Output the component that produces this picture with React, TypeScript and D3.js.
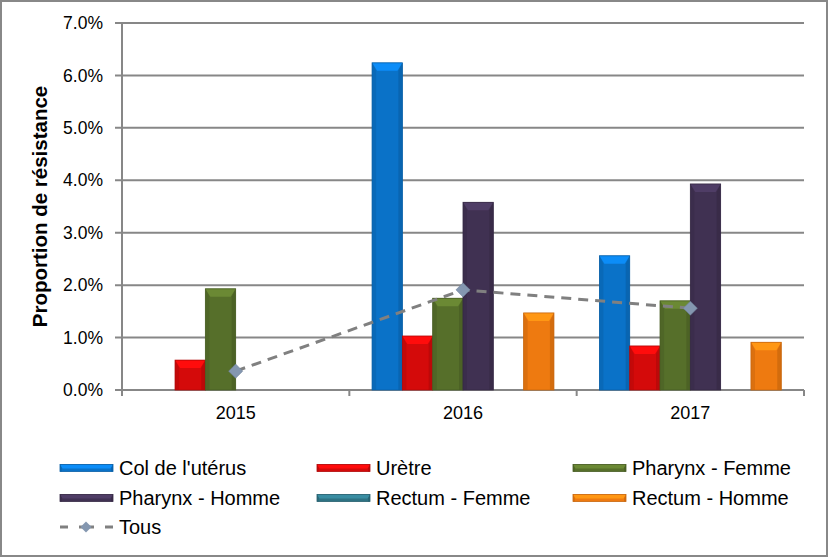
import React from "react";
import * as d3 from "d3";

const categories = ["2015", "2016", "2017"];
const seriesNames = ["Col de l'utérus", "Urètre", "Pharynx - Femme", "Pharynx - Homme", "Rectum - Femme", "Rectum - Homme"];
const colUterus = [0, 6.24, 2.56];
const uretre = [0.57, 1.03, 0.84];
const pharynxFemme = [1.93, 1.75, 1.70];
const pharynxHomme = [0, 3.58, 3.93];
const rectumFemme = [0, 0, 0];
const rectumHomme = [0, 1.47, 0.91];
const tous = [0.36, 1.91, 1.56];
const yTicks = [0, 1, 2, 3, 4, 5, 6, 7];

const seriesValues = [colUterus, uretre, pharynxFemme, pharynxHomme, rectumFemme, rectumHomme];
const colors = ["#0A72C8", "#D40A0A", "#566F2A", "#403152", "#2E7283", "#EE7A10"];

const W = 828, H = 557;
const M = { left: 122, right: 804, top: 23, bottom: 390 };

function Bevel({ x, y, w, h, color, bev = 4 }: { x: number; y: number; w: number; h: number; color: string; bev?: number }) {
  const c = d3.color(color)!;
  const light = c.brighter(0.6).formatHex();
  const dark = c.darker(0.5).formatHex();
  const b = Math.min(bev, w / 4, h / 2);
  return (
    <g>
      <rect x={x} y={y} width={w} height={h} fill={color} />
      <polygon points={`${x},${y} ${x + w},${y} ${x + w - b},${y + b * 1.6} ${x + b},${y + b * 1.6}`} fill={light} />
      <polygon points={`${x},${y} ${x + b * 0.8},${y + b * 1.6} ${x + b * 0.8},${y + h} ${x},${y + h}`} fill={dark} opacity={0.5} />
      <polygon points={`${x + w},${y} ${x + w - b * 0.8},${y + b * 1.6} ${x + w - b * 0.8},${y + h} ${x + w},${y + h}`} fill={dark} opacity={0.7} />
      <rect x={x} y={y} width={w} height={h} fill="none" stroke={dark} strokeWidth={0.8} />
    </g>
  );
}

export default function App() {
  const x = d3.scaleBand<string>().domain(categories).range([M.left, M.right]);
  const y = d3.scaleLinear().domain([0, 7]).range([M.bottom, M.top]);
  const bw = x.bandwidth() / 7.5;
  const inner = d3.scaleBand<number>().domain(d3.range(6)).range([0, bw * 6]);
  const cx = (c: string) => (x(c) as number) + x.bandwidth() / 2;
  const line = d3.line<number>().x((_, i) => cx(categories[i])).y((d) => y(d));
  const font = "'Liberation Sans', Arial, sans-serif";
  const diamond = d3.symbol(d3.symbolSquare, 100)()!;
  const diamondSmall = d3.symbol(d3.symbolSquare, 60)()!;

  const legendCols = [60, 317, 573];
  const legendRows = [468, 498, 527];

  return (
    <svg width={W} height={H} style={{ position: "absolute", left: 0, top: 0, background: "#fff" }} fontFamily={font}>
      <rect x={1} y={1} width={W - 2} height={H - 2} fill="#fff" stroke="#888" strokeWidth={2} />
      {yTicks.map((t) => (
        <g key={t}>
          <line x1={M.left - 7} x2={M.right} y1={y(t)} y2={y(t)} stroke="#878787" strokeWidth={2} />
          <text x={M.left - 19} y={y(t)} dy="0.35em" textAnchor="end" fontSize={17.5} fill="#000">
            {t.toFixed(1) + "%"}
          </text>
        </g>
      ))}
      <line x1={M.left} x2={M.left} y1={M.top} y2={M.bottom + 1} stroke="#878787" strokeWidth={2} />
      {[0, 1, 2, 3].map((i) => {
        const xx = M.left + i * x.bandwidth();
        return <line key={i} x1={xx} x2={xx} y1={M.bottom} y2={M.bottom + 6} stroke="#878787" strokeWidth={2} />;
      })}
      {categories.map((c) => (
        <text key={c} x={cx(c)} y={419} textAnchor="middle" fontSize={18} fill="#000">
          {c}
        </text>
      ))}
      {categories.map((c, ci) => {
        const start = cx(c) - bw * 3;
        return seriesValues.map((vals, si) =>
          vals[ci] > 0 ? (
            <Bevel key={c + si} x={start + (inner(si) as number)} y={y(vals[ci])} w={bw} h={y(0) - y(vals[ci])} color={colors[si]} bev={5} />
          ) : null
        );
      })}
      <path d={line(tous) || ""} fill="none" stroke="#808080" strokeWidth={3} strokeDasharray="10,7" />
      {tous.map((v, i) => (
        <path key={i} d={diamond} transform={`translate(${cx(categories[i])},${y(v)}) rotate(45)`} fill="#8497B0" stroke="#6d7f99" strokeWidth={0.5} />
      ))}
      <text transform={`translate(47,${(M.top + M.bottom) / 2}) rotate(-90)`} textAnchor="middle" fontSize={20.5} fontWeight="bold" fill="#000">
        Proportion de résistance
      </text>
      {seriesNames.map((n, i) => {
        const lx = legendCols[i % 3];
        const ly = legendRows[Math.floor(i / 3)];
        return (
          <g key={n}>
            <Bevel x={lx} y={ly - 3.5} w={53} h={7} color={colors[i]} bev={2.5} />
            <text x={lx + 59} y={ly} dy="0.36em" fontSize={20} fill="#000">
              {n}
            </text>
          </g>
        );
      })}
      <g>
        <line x1={legendCols[0]} x2={legendCols[0] + 53} y1={legendRows[2]} y2={legendRows[2]} stroke="#808080" strokeWidth={3} strokeDasharray="8,11,15,11,8" />
        <path d={diamondSmall} transform={`translate(${legendCols[0] + 26},${legendRows[2]}) rotate(45)`} fill="#8497B0" />
        <text x={legendCols[0] + 59} y={legendRows[2]} dy="0.36em" fontSize={20} fill="#000">
          Tous
        </text>
      </g>
    </svg>
  );
}
